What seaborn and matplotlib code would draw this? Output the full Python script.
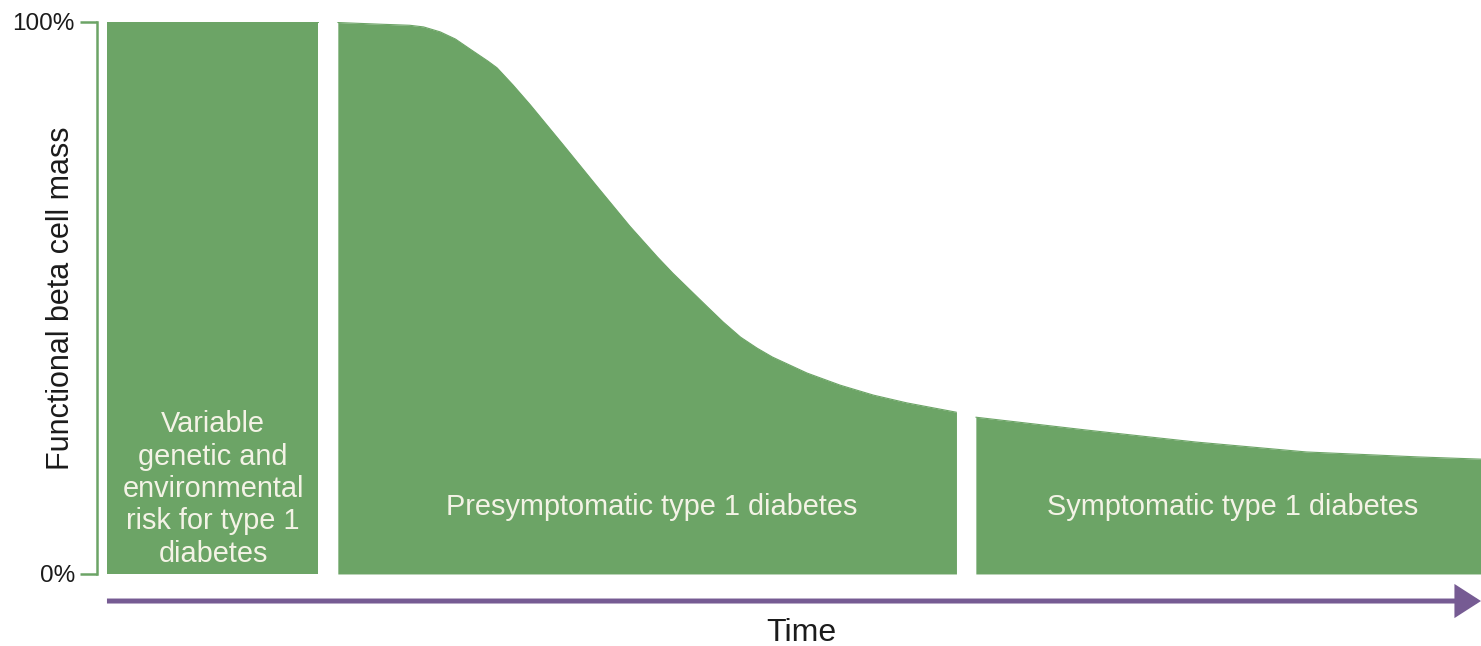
import numpy as np
import pandas as pd
import matplotlib
matplotlib.use('Agg')
import matplotlib.pyplot as plt
import seaborn as sns

# Style
sns.set_theme(style="white")
plt.rcParams['font.family'] = ['Liberation Sans', 'DejaVu Sans']

GREEN = '#6ca466'
PURPLE = '#765b93'
TEXT_LIGHT = '#f4f3e6'
TEXT_DARK = '#1b1b1b'

# Data (time in arbitrary units 0-100, mass in %)
risk_time = [0.72, 15.97]
risk_mass = [100, 100]

pre_time = [17.4, 20.4, 22.6, 23.6, 24.8, 25.9, 26.95, 28.25, 28.9, 30.05, 31.3, 33.7,
            36.1, 38.5, 40.5, 41.6, 44.1, 45.24, 46.5, 47.7, 48.8, 51.3, 53.7, 56.1,
            58.5, 62.1]
pre_mass = [99.9, 99.6, 99.4, 99.1, 98.2, 96.9, 95.1, 92.9, 91.7, 88.6, 85.0, 77.7,
            70.3, 63.0, 57.4, 54.5, 48.4, 45.65, 42.9, 40.9, 39.3, 36.4, 34.2, 32.4,
            31.0, 29.3]

sym_time = [63.5, 71.4, 79.4, 87.4, 95.5, 100.0]
sym_mass = [28.4, 26.1, 23.9, 22.1, 21.2, 20.8]

stage_labels = [
    "Variable\ngenetic and\nenvironmental\nrisk for type 1\ndiabetes",
    "Presymptomatic type 1 diabetes",
    "Symptomatic type 1 diabetes",
]
label_times = [8.38, 40.06, 82.04]
label_heights = [15.4, 12.1, 12.1]

y_ticks = [0, 100]
y_tick_labels = ['0%', '100%']

fig = plt.figure(figsize=(14.81, 6.46), dpi=100)
ax = fig.add_axes([0.0655, 0.1115, 0.9345, 0.8545])

stages = [(risk_time, risk_mass), (pre_time, pre_mass), (sym_time, sym_mass)]
for (t, m), label, lx, ly in zip(stages, stage_labels, label_times, label_heights):
    df = pd.DataFrame({'time': t, 'mass': m})
    ax.fill_between(df['time'], 0, df['mass'], color=GREEN, linewidth=0)
    sns.lineplot(data=df, x='time', y='mass', color=GREEN, linewidth=0.8, ax=ax)
    ax.text(lx, ly, label, ha='center', va='center',
            fontsize=20.8, color=TEXT_LIGHT, linespacing=1.2)

ax.set_xlim(0, 100)
ax.set_ylim(0, 100)

# Axis styling
for side in ['top', 'right', 'bottom']:
    ax.spines[side].set_visible(False)
ax.spines['left'].set_color(GREEN)
ax.spines['left'].set_linewidth(1.8)
ax.set_xticks([])
ax.set_yticks(y_ticks)
ax.set_yticklabels(y_tick_labels)
ax.tick_params(axis='y', left=True, length=12, width=1.8, color=GREEN,
               labelsize=17.5, labelcolor=TEXT_DARK, pad=4)
ax.set_xlabel('')
ax.set_ylabel('Functional beta cell mass', fontsize=22, color=TEXT_DARK)
ax.yaxis.set_label_coords(-0.015, 0.5)

# Time arrow
ax.annotate('', xy=(100, -0.049), xytext=(0.72, -0.049),
            xycoords=ax.get_xaxis_transform(), textcoords=ax.get_xaxis_transform(),
            arrowprops=dict(arrowstyle='-|>,head_length=0.7,head_width=0.45',
                            color=PURPLE, lw=3.6, shrinkA=0, shrinkB=0,
                            mutation_scale=20, joinstyle='miter', capstyle='butt'),
            annotation_clip=False)
ax.text(0.509, -0.107, 'Time', transform=ax.transAxes, ha='center', va='center',
        fontsize=23, color=TEXT_DARK)

fig.savefig('out.png', dpi=100)
plt.close(fig)
